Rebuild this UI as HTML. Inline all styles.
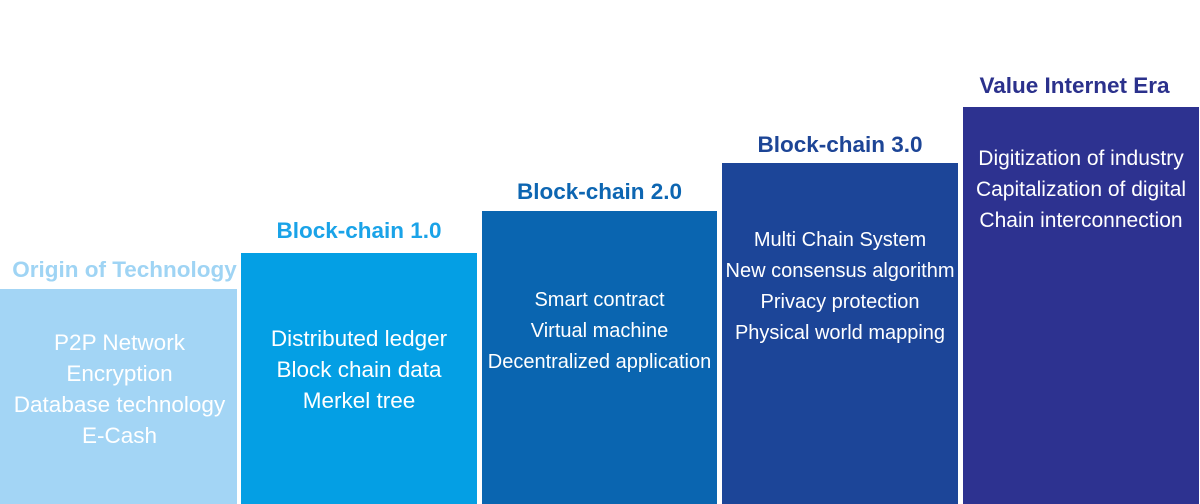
<!DOCTYPE html>
<html><head><style>
body{margin:0;width:1200px;height:504px;background:#fff;position:relative;overflow:hidden;font-family:"Liberation Sans",Arial,sans-serif}
.b{position:absolute;bottom:0}
.t{position:absolute;font-weight:bold;font-size:22.5px;text-align:center;line-height:24px;white-space:nowrap}
.x{position:absolute;color:#fff;font-size:21px;text-align:center;line-height:31px;white-space:nowrap}
</style></head><body>
<div class="b" style="left:0;width:237px;top:289px;background:#a3d5f5"></div>
<div class="b" style="left:241px;width:236px;top:253px;background:#049fe4"></div>
<div class="b" style="left:482px;width:235px;top:211px;background:#0a65b0"></div>
<div class="b" style="left:722px;width:236px;top:163px;background:#1c4598"></div>
<div class="b" style="left:963px;width:236px;top:107px;background:#2d3290"></div>

<div class="t" style="left:0;width:249px;top:258px;color:#9fd4f4">Origin of Technology</div>
<div class="t" style="left:241px;width:236px;top:219px;color:#1aa3e8">Block-chain 1.0</div>
<div class="t" style="left:482px;width:235px;top:180px;color:#0d66b2">Block-chain 2.0</div>
<div class="t" style="left:722px;width:236px;top:133px;color:#1d4596">Block-chain 3.0</div>
<div class="t" style="left:963px;width:223px;top:74px;color:#2b318c">Value Internet Era</div>

<div class="x" style="left:0;width:239px;top:327px;font-size:22.5px">P2P Network<br>Encryption<br>Database technology<br>E-Cash</div>
<div class="x" style="left:241px;width:236px;top:323px;font-size:22.5px">Distributed ledger<br>Block chain data<br>Merkel tree</div>
<div class="x" style="left:482px;width:235px;top:285px;font-size:20px">Smart contract<br>Virtual machine<br>Decentralized application</div>
<div class="x" style="left:722px;width:236px;top:225px;font-size:20px">Multi Chain System<br>New consensus algorithm<br>Privacy protection<br>Physical world mapping</div>
<div class="x" style="left:963px;width:236px;top:143px">Digitization of industry<br>Capitalization of digital<br>Chain interconnection</div>
</body></html>
